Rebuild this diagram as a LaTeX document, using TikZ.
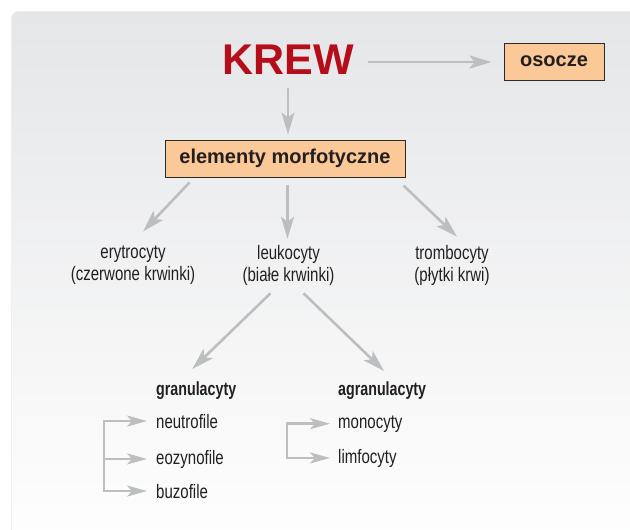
\documentclass[tikz,border=0pt]{standalone}
\usepackage{fontspec}
\setmainfont{Liberation Sans}
\newfontfamily\condfont[FakeStretch=0.77]{Liberation Sans}
\newfontfamily\condbold[FakeStretch=0.75]{Liberation Sans Bold}
\usetikzlibrary{arrows.meta}
\definecolor{arrowgray}{HTML}{BDBEC0}
\definecolor{krewred}{HTML}{B50E1A}
\definecolor{peach}{HTML}{FBC898}
\definecolor{boxborder}{HTML}{2B2B2B}
\definecolor{textcol}{HTML}{231F20}
\definecolor{paneltop}{HTML}{E5E6E8}
\definecolor{panelbot}{HTML}{FFFFFF}
\definecolor{paneledge}{HTML}{EEEEEF}
\begin{document}
\begin{tikzpicture}[x=1pt,y=-1pt,
  arr/.style={draw=arrowgray, line width=2.6pt, -{Stealth[length=22pt,width=13pt,inset=5pt]}},
  arrs/.style={draw=arrowgray, line width=2.6pt, -{Stealth[length=20pt,width=11pt,inset=5pt]}},
  arrsb/.style={draw=arrowgray, line width=2.6pt, {Stealth[length=20pt,width=11pt,inset=5pt]}-{Stealth[length=20pt,width=11pt,inset=5pt]}},
  box/.style={draw=boxborder, line width=1pt, fill=peach, font=\fontsize{20}{24}\selectfont\bfseries, text=textcol, inner sep=0pt},
  lbl/.style={font=\condfont\fontsize{19.5}{22}\selectfont, text=textcol, inner sep=0pt, align=center},
  headlbl/.style={font=\condbold\fontsize{19}{21}\selectfont, text=textcol, inner sep=0pt, anchor=base west},
  itemlbl/.style={font=\condfont\fontsize{19.5}{22}\selectfont, text=textcol, inner sep=0pt, anchor=base west}]
\useasboundingbox (0,0) rectangle (630,530);
\clip (0,0) rectangle (630,530);
\fill[white] (0,0) rectangle (630,530);
\draw[paneledge, line width=2pt, rounded corners=7pt] (12,12) rectangle (660,560);
\shade[top color=paneltop, bottom color=panelbot, rounded corners=6pt] (12,12) rectangle (660,560);

% top
\node[font=\fontsize{43}{43}\selectfont\bfseries, text=krewred, inner sep=0pt] (krew) at (288,60) {KREW};
\node[box, minimum width=100pt, minimum height=37pt] (osocze) at (554,61.5) {osocze};
\node[box, minimum width=240pt, minimum height=37pt] (elem) at (285,158.5) {elementy morfotyczne};

% labels
\node[lbl] (ery) at (133,265) {erytrocyty\\(czerwone krwinki)};
\node[lbl] (leuko) at (288.5,265) {leukocyty\\(białe krwinki)};
\node[lbl] (trombo) at (452,265) {trombocyty\\(płytki krwi)};

\node[headlbl] (gran) at (156,395) {granulacyty};
\node[headlbl] (agran) at (338,395) {agranulacyty};

\node[itemlbl] (neutro) at (156,428) {neutrofile};
\node[itemlbl] (eozyno) at (156,464) {eozynofile};
\node[itemlbl] (buzo) at (156,498) {buzofile};
\node[itemlbl] (mono) at (338,428) {monocyty};
\node[itemlbl] (limfo) at (338,463) {limfocyty};

% connectors
\draw[arr] ([shift={(14,2)}]krew.east) -- ([shift={(-12,0.5)}]osocze.west);
\draw[arr] ([shift={(0,13)}]krew.south) -- ([shift={(0,-5)}]krew.south |- elem.north);
\draw[arr] ([shift={(25,5)}]elem.south west) -- ([shift={(10,-14)}]ery.north);
\draw[arr] ([shift={(-1,7)}]leuko.north |- elem.south) -- ([shift={(-1,-6)}]leuko.north);
\draw[arr] ([shift={(-2,8)}]elem.south east) -- ([shift={(5,-8)}]trombo.north);
\draw[arr] ([shift={(-18,8)}]leuko.south) -- ([shift={(-4,-12)}]gran.north);
\draw[arr] ([shift={(15,8)}]leuko.south) -- ([shift={(2,-10)}]agran.north);

\coordinate (gx) at (104,0);
\coordinate (ax) at (287,0);
\draw[arrsb] ([shift={(-9,0)}]neutro.west) -| (gx |- buzo.west) -- ([shift={(-9,0)}]buzo.west);
\draw[arrs] (gx |- eozyno.west) -- ([shift={(-9,0)}]eozyno.west);
\draw[arrsb] ([shift={(-8,0)}]mono.west) -| (ax |- limfo.west) -- ([shift={(-8,0)}]limfo.west);
\end{tikzpicture}
\end{document}
